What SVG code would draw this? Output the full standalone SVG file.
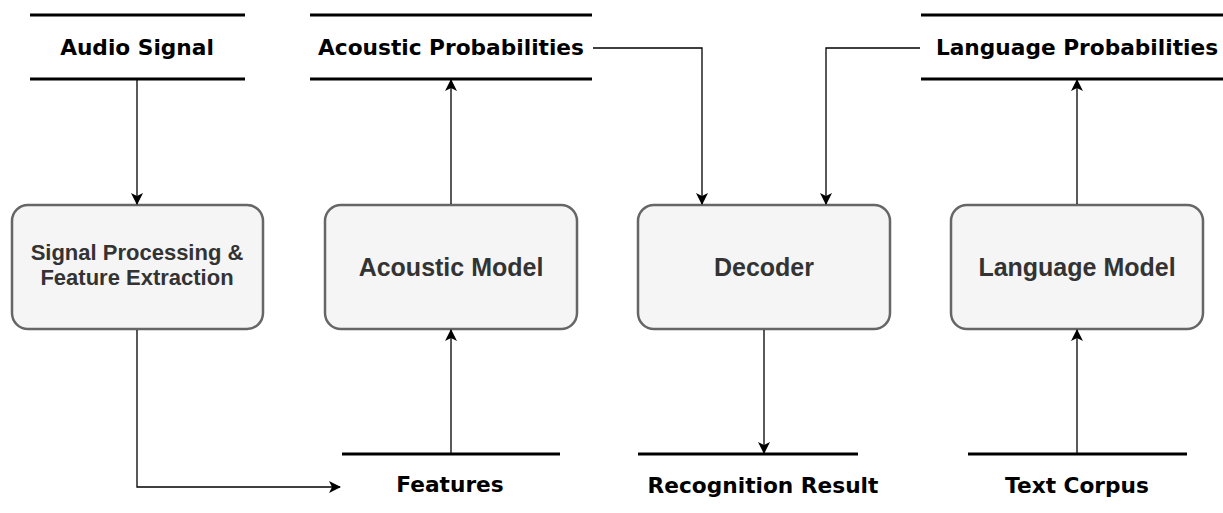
<svg xmlns="http://www.w3.org/2000/svg" width="1223" height="513" viewBox="0 0 1223 513">
  <style>
    .store line { stroke: #000; stroke-width: 3; }
    .store text { font-family: "DejaVu Sans", sans-serif; font-weight: bold; font-size: 21.7px; fill: #000; text-anchor: middle; }
    .proc rect { fill: #f5f5f5; stroke: #666; stroke-width: 2.5; }
    .proc text { font-family: "Liberation Sans", Arial, sans-serif; font-weight: bold; fill: #333; text-anchor: middle; }
    .conn path { fill: none; stroke: #000; stroke-width: 1.3; }
  </style>
  <defs>
    <marker id="arrow" viewBox="0 0 12 12" refX="11" refY="6" markerWidth="12" markerHeight="12" markerUnits="userSpaceOnUse" orient="auto">
      <path d="M0,0 L12,6 L0,12 L3,6 Z" fill="#000"/>
    </marker>
  </defs>

  <rect width="1223" height="513" fill="#fff"/>

  <!-- data stores -->
  <g id="audio-signal" class="store">
    <line x1="30" y1="15" x2="245" y2="15"/>
    <line x1="30" y1="79" x2="245" y2="79"/>
    <text x="137" y="55">Audio Signal</text>
  </g>
  <g id="acoustic-probabilities" class="store">
    <line x1="310" y1="15" x2="592" y2="15"/>
    <line x1="310" y1="79" x2="592" y2="79"/>
    <text x="451" y="55">Acoustic Probabilities</text>
  </g>
  <g id="language-probabilities" class="store">
    <line x1="921" y1="15" x2="1223" y2="15"/>
    <line x1="921" y1="79" x2="1223" y2="79"/>
    <text x="1077" y="55">Language Probabilities</text>
  </g>
  <g id="features" class="store">
    <line x1="342" y1="454" x2="560" y2="454"/>
    <text x="450" y="492">Features</text>
  </g>
  <g id="recognition-result" class="store">
    <line x1="638" y1="454" x2="858" y2="454"/>
    <text x="763" y="493">Recognition Result</text>
  </g>
  <g id="text-corpus" class="store">
    <line x1="968" y1="454" x2="1187" y2="454"/>
    <text x="1077" y="493">Text Corpus</text>
  </g>

  <!-- processes -->
  <g id="signal-processing" class="proc">
    <rect x="12" y="205" width="251" height="124" rx="16"/>
    <text x="137" y="260" font-size="22">Signal Processing &amp;</text>
    <text x="137" y="285" font-size="22">Feature Extraction</text>
  </g>
  <g id="acoustic-model" class="proc">
    <rect x="325" y="205" width="252" height="124" rx="16"/>
    <text x="451" y="276" font-size="25">Acoustic Model</text>
  </g>
  <g id="decoder" class="proc">
    <rect x="638" y="205" width="252" height="124" rx="16"/>
    <text x="764" y="276" font-size="25">Decoder</text>
  </g>
  <g id="language-model" class="proc">
    <rect x="951" y="205" width="252" height="124" rx="16"/>
    <text x="1077" y="276" font-size="25">Language Model</text>
  </g>

  <!-- connectors -->
  <g id="connectors" class="conn">
    <path d="M137,80 V204" marker-end="url(#arrow)"/>
    <path d="M137,330 V487 H340" marker-end="url(#arrow)"/>
    <path d="M451,453 V330" marker-end="url(#arrow)"/>
    <path d="M451,204 V80" marker-end="url(#arrow)"/>
    <path d="M593,48 H702 V204" marker-end="url(#arrow)"/>
    <path d="M920,48 H826 V204" marker-end="url(#arrow)"/>
    <path d="M764,330 V453" marker-end="url(#arrow)"/>
    <path d="M1077,453 V330" marker-end="url(#arrow)"/>
    <path d="M1077,204 V80" marker-end="url(#arrow)"/>
  </g>
</svg>
